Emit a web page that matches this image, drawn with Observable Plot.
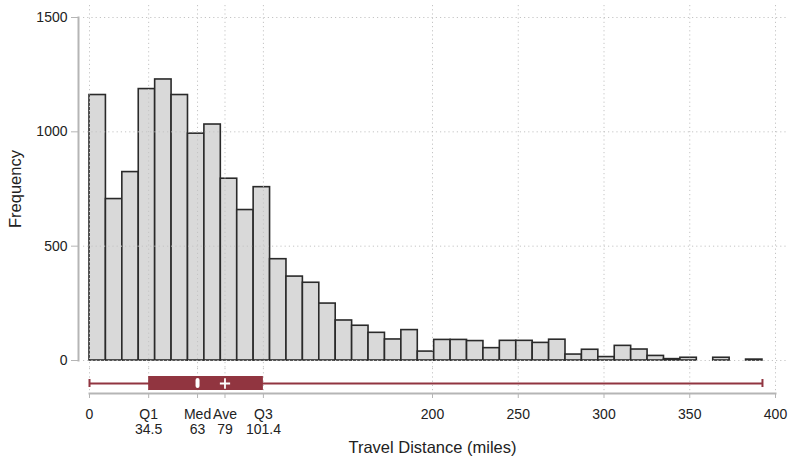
<!DOCTYPE html>
<html>
<head>
<meta charset="utf-8">
<script src="https://cdn.jsdelivr.net/npm/d3@7"></script>
<script src="https://cdn.jsdelivr.net/npm/@observablehq/plot@0.6"></script>
<style>
  html, body { margin: 0; padding: 0; background: #fff; }
  #chart svg { display: block; }
</style>
</head>
<body>
<div id="chart"></div>
<script>
// ---- data ----
const binCounts = [1161, 706, 824, 1187, 1229, 1161, 992, 1032, 795, 658, 758,
  443, 367, 340, 249, 175, 152, 121, 92, 133, 39, 90, 90, 85, 54, 86, 86, 77,
  91, 26, 47, 15, 64, 48, 20, 6, 12, 0, 12, 0, 4];
const minDistance = 0;
const maxDistance = 392.4;
const q1 = 34.5;
const median = 63;
const mean = 79;
const q3 = 101.4;
const yTicks = [0, 500, 1000, 1500];
const xTicks = [0, 34.5, 63, 79, 101.4, 200, 250, 300, 350, 400];
const xTickLabels = ["0", "Q1\n34.5", "Med\n63", "Ave\n79", "Q3\n101.4", "200", "250", "300", "350", "400"];

// ---- derived tables ----
const binWidth = (maxDistance - minDistance) / binCounts.length;
const bins = binCounts.map((c, i) => ({x1: minDistance + i * binWidth, x2: minDistance + (i + 1) * binWidth, count: c}))
  .filter(d => d.count > 0);
const stats = [{min: minDistance, q1, median, mean, q3, max: maxDistance}];
const labelOf = new Map(xTicks.map((t, i) => [t, xTickLabels[i]]));

const font = {fontFamily: "'Liberation Sans', Arial, sans-serif", fontSize: "14px", background: "#fff", color: "#222"};
const gridStyle = {stroke: "#c4c4c4", strokeDasharray: "1.2,3", strokeWidth: 1};
const boxColor = "#913540";

const hist = Plot.plot({
  width: 789, height: 368,
  marginLeft: 78, marginRight: 2, marginTop: 17, marginBottom: 8,
  style: font,
  x: {domain: [0, 400], range: [89, 775], axis: null},
  y: {domain: [0, 1500]},
  marks: [
    Plot.rectY(bins, {x1: "x1", x2: "x2", y: "count", fill: "#d9d9d9", stroke: "#2a2a2a", strokeWidth: 1.6}),
    Plot.ruleY(yTicks, {...gridStyle, insetLeft: 5}),
    Plot.ruleX(xTicks, {...gridStyle, insetTop: -12, insetBottom: -8}),
    Plot.frame({anchor: "left", stroke: "#b5b5b5", strokeWidth: 2}),
    Plot.axisY({ticks: yTicks, tickSize: 7, tickPadding: 4, tickFormat: d => String(d), label: null, fontSize: 14, stroke: "#b5b5b5", fill: "#222"}),
    Plot.text(["Frequency"], {frameAnchor: "left", textAnchor: "middle", lineAnchor: "middle", rotate: -90, dx: -63, fontSize: 16.5, fill: "#222"})
  ]
});

const box = Plot.plot({
  width: 789, height: 89,
  marginLeft: 89, marginRight: 14, marginTop: 5, marginBottom: 64,
  style: font,
  x: {domain: [0, 400]},
  y: {type: "band", domain: ["dist"], padding: 0, axis: null},
  marks: [
    Plot.ruleX(xTicks, {...gridStyle, insetTop: -5}),
    Plot.ruleY(stats, {y: () => "dist", x1: "min", x2: "max", stroke: boxColor, strokeWidth: 2}),
    Plot.tickX(stats, {x: "min", y: () => "dist", stroke: boxColor, strokeWidth: 2, insetTop: 6, insetBottom: 6}),
    Plot.tickX(stats, {x: "max", y: () => "dist", stroke: boxColor, strokeWidth: 2, insetTop: 6, insetBottom: 6}),
    Plot.barX(stats, {x1: "q1", x2: "q3", y: () => "dist", fill: boxColor, insetTop: 3, insetBottom: 3}),
    Plot.tickX(stats, {x: "median", y: () => "dist", stroke: "#fff", strokeWidth: 4, strokeLinecap: "round", insetTop: 7, insetBottom: 7}),
    Plot.dot(stats, {x: "mean", y: () => "dist", symbol: "plus", r: 3.4, fill: "none", stroke: "#fff", strokeWidth: 1.8}),
    Plot.frame({anchor: "bottom", stroke: "#b5b5b5", strokeWidth: 2}),
    Plot.axisX({ticks: xTicks, tickSize: 5, tickPadding: 9, tickFormat: d => labelOf.get(d), label: null, fontSize: 14, lineHeight: 1.12, stroke: "#b5b5b5", fill: "#222"}),
    Plot.text(["Travel Distance (miles)"], {frameAnchor: "bottom", textAnchor: "middle", lineAnchor: "middle", dy: 54, fontSize: 16.5, fill: "#222"})
  ]
});

const chart = document.getElementById("chart");
chart.appendChild(hist);
chart.appendChild(box);
</script>
</body>
</html>
